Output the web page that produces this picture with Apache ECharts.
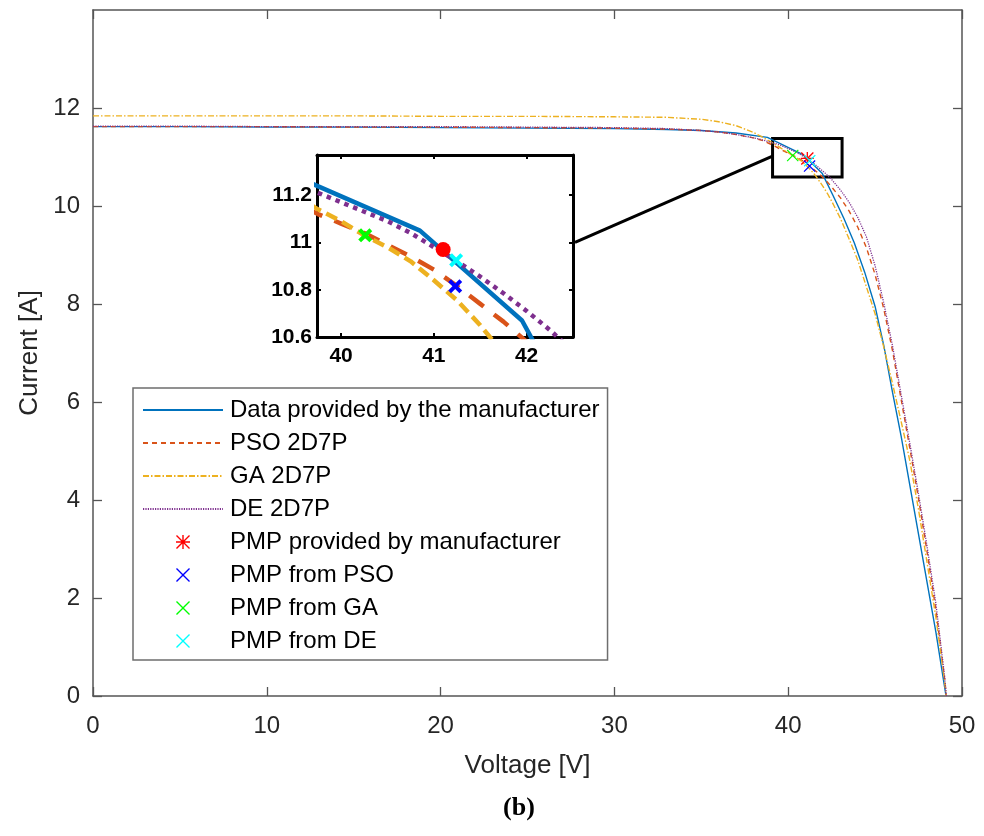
<!DOCTYPE html>
<html>
<head>
<meta charset="utf-8">
<script src="https://cdn.jsdelivr.net/npm/echarts@6/dist/echarts.min.js"></script>
<style>
  html, body { margin: 0; padding: 0; background: #fff; }
  #chart { width: 984px; height: 836px; }
</style>
</head>
<body>
<div id="chart"></div>
<script>
// ---- I-V data (voltage in V, current in A) ----
// Manufacturer curve points
const vMfr = [0, 5, 10, 15, 20, 25, 30, 33, 35, 37, 38.8, 40.85, 41.95, 42.6, 43.2, 43.8, 44.4, 45, 45.5, 46, 46.5, 47, 47.5, 48, 48.5, 49.08];
const iMfr = [11.62, 11.62, 11.61, 11.61, 11.60, 11.59, 11.58, 11.56, 11.54, 11.49, 11.40, 11.05, 10.67, 10.2, 9.75, 9.25, 8.65, 7.95, 7.15, 6.2, 5.3, 4.3, 3.3, 2.3, 1.3, 0];

// Voltage grid shared by the fitted 2D7P models
const vFit = [0, 5, 10, 15, 20, 25, 30, 33, 35, 36, 37, 38, 38.5, 39, 39.5, 39.75, 40, 40.25, 40.5, 40.75, 41, 41.25, 41.5, 41.75, 42, 42.25, 42.5, 43, 43.5, 44, 44.5, 45, 45.5, 46, 46.5, 47, 47.5, 48, 48.5, 49, 49.1];
const iPso = [11.62, 11.62, 11.62, 11.61, 11.61, 11.60, 11.59, 11.57, 11.54, 11.51, 11.46, 11.39, 11.34, 11.26, 11.17, 11.12, 11.08, 11.04, 10.99, 10.94, 10.885, 10.815, 10.74, 10.665, 10.58, 10.49, 10.39, 10.17, 9.9, 9.57, 9.15, 8.6, 7.9, 7.05, 6.05, 5.05, 4.02, 2.92, 1.75, 0.35, 0];
const iGa  = [11.84, 11.84, 11.84, 11.84, 11.83, 11.83, 11.82, 11.81, 11.77, 11.72, 11.64, 11.50, 11.41, 11.31, 11.20, 11.14, 11.09, 11.03, 10.98, 10.92, 10.84, 10.755, 10.65, 10.53, 10.40, 10.26, 10.10, 9.75, 9.33, 8.9, 8.35, 7.8, 7.12, 6.38, 5.6, 4.8, 3.8, 2.7, 1.6, 0.3, 0];
const iDe  = [11.63, 11.63, 11.62, 11.62, 11.62, 11.61, 11.60, 11.58, 11.54, 11.51, 11.46, 11.39, 11.35, 11.30, 11.25, 11.21, 11.17, 11.13, 11.09, 11.04, 10.98, 10.92, 10.855, 10.785, 10.71, 10.63, 10.54, 10.33, 10.08, 9.77, 9.37, 8.78, 8.02, 7.15, 6.15, 5.15, 4.12, 3.03, 1.88, 0.4, 0];

// Maximum power points [V, A]
const pmpMfr = [41.1, 10.97];
const pmpPso = [41.23, 10.815];
const pmpGa  = [40.26, 11.03];
const pmpDe  = [41.24, 10.925];

// Axis ranges and tick values
const mainX = [0, 50];
const mainY = [0, 14];
const mainXTicks = [0, 10, 20, 30, 40, 50];
const mainYTicks = [0, 2, 4, 6, 8, 10, 12];
const zoomX = [39.74, 42.5];
const zoomY = [10.6, 11.37];
const zoomXTicks = [40, 41, 42];
const zoomYTicks = [10.6, 10.8, 11, 11.2];
// Region outlined on the main plot
const boxV = [39.1, 43.1];
const boxI = [10.59, 11.38];

// Legend names
const names = ['Data provided by the manufacturer', 'PSO 2D7P', 'GA 2D7P', 'DE 2D7P',
  'PMP provided by manufacturer', 'PMP from PSO', 'PMP from GA', 'PMP from DE'];

// ---- styling ----
const FONT = 'Liberation Sans';
const C_BLUE = '#0072BD', C_RED = '#D95319', C_YEL = '#EDB120', C_PUR = '#7E2F8E';
const X_THIN = 'path://M0,0.7L0.7,0L5,4.3L9.3,0L10,0.7L5.7,5L10,9.3L9.3,10L5,5.7L0.7,10L0,9.3L4.3,5Z';
const X_BOLD = 'path://M0,2L2,0L5,3L8,0L10,2L7,5L10,8L8,10L5,7L2,10L0,8L3,5Z';
const STAR = 'path://M4.5,0L5.5,0L5.5,10L4.5,10Z M0,4.5L10,4.5L10,5.5L0,5.5Z M0,0.7L0.7,0L10,9.3L9.3,10Z M9.3,0L10,0.7L0.7,10L0,9.3Z';

const pairs = (xs, ys) => xs.map((x, k) => [x, ys[k]]);

const mainAxisLine = { show: true, onZero: false, lineStyle: { color: '#555', width: 1.5 } };
const mainTick = { show: true, inside: true, length: 9, lineStyle: { color: '#555', width: 1.3 } };
const zoomAxisLine = { show: true, onZero: false, lineStyle: { color: '#000', width: 3 } };
const zoomTick = { show: true, inside: true, length: 4, lineStyle: { color: '#000', width: 2 } };
const mainLabel = { fontFamily: FONT, fontSize: 24, color: '#262626', margin: 13 };
const zoomLabel = { fontFamily: FONT, fontSize: 21, fontWeight: 'bold', color: '#000' };

function lineSeries(name, xs, ys, color, type, width, axis) {
  return {
    name, type: 'line', data: pairs(xs, ys), xAxisIndex: axis, yAxisIndex: axis,
    showSymbol: false, symbol: 'none', smooth: false, clip: true,
    lineStyle: { color, width, type, cap: 'butt' }, itemStyle: { color },
    z: 3, silent: true
  };
}
function pointSeries(name, pt, symbol, size, color, axis) {
  return {
    name, type: 'scatter', data: [pt], xAxisIndex: axis, yAxisIndex: axis,
    symbol, symbolSize: size, itemStyle: { color, opacity: 1 }, z: 5, silent: true
  };
}

// legend entries: curves show only their line sample, points only their marker
const legendData = names.map((name, k) => k < 4
  ? { name, itemStyle: { opacity: 0, color: 'rgba(0,0,0,0)', borderWidth: 0 } }
  : { name });

const chart = echarts.init(document.getElementById('chart'), null, { renderer: 'canvas' });

const option = {
  animation: false,
  backgroundColor: '#fff',
  textStyle: { fontFamily: FONT },
  grid: [
    { left: 93, top: 10, width: 869, height: 686, outerBoundsMode: 'none', containLabel: false },
    { left: 317, top: 155, width: 256, height: 182, outerBoundsMode: 'none', containLabel: false,
      show: true, backgroundColor: '#fff', borderWidth: 0, z: 4 }
  ],
  xAxis: [
    { gridIndex: 0, type: 'value', position: 'bottom', min: mainX[0], max: mainX[1], interval: 10,
      axisLine: mainAxisLine, axisTick: mainTick, splitLine: { show: false },
      axisLabel: Object.assign({}, mainLabel, { margin: 18 }),
      name: 'Voltage [V]', nameLocation: 'middle', nameGap: 57,
      nameTextStyle: { fontFamily: FONT, fontSize: 26, color: '#262626' } },
    { gridIndex: 0, type: 'value', position: 'top', min: mainX[0], max: mainX[1], interval: 10,
      axisLine: mainAxisLine, axisTick: mainTick, splitLine: { show: false }, axisLabel: { show: false } },
    { gridIndex: 1, type: 'value', position: 'bottom', min: zoomX[0], max: zoomX[1],
      axisLine: zoomAxisLine, axisTick: Object.assign({ customValues: zoomXTicks }, zoomTick),
      splitLine: { show: false },
      axisLabel: Object.assign({ customValues: zoomXTicks, margin: 9 }, zoomLabel), z: 6 },
    { gridIndex: 1, type: 'value', position: 'top', min: zoomX[0], max: zoomX[1],
      axisLine: zoomAxisLine, axisTick: Object.assign({ customValues: zoomXTicks }, zoomTick),
      splitLine: { show: false }, axisLabel: { show: false }, z: 6 }
  ],
  yAxis: [
    { gridIndex: 0, type: 'value', position: 'left', min: mainY[0], max: mainY[1], interval: 2,
      axisLine: mainAxisLine, axisTick: Object.assign({ customValues: mainYTicks }, mainTick),
      splitLine: { show: false },
      axisLabel: Object.assign({ customValues: mainYTicks }, mainLabel),
      name: 'Current [A]', nameLocation: 'middle', nameGap: 44, nameRotate: 90,
      nameTextStyle: { fontFamily: FONT, fontSize: 26, color: '#262626' } },
    { gridIndex: 0, type: 'value', position: 'right', min: mainY[0], max: mainY[1], interval: 2,
      axisLine: mainAxisLine, axisTick: Object.assign({ customValues: mainYTicks }, mainTick),
      splitLine: { show: false }, axisLabel: { show: false } },
    { gridIndex: 1, type: 'value', position: 'left', min: zoomY[0], max: zoomY[1],
      axisLine: zoomAxisLine, axisTick: Object.assign({ customValues: zoomYTicks }, zoomTick),
      splitLine: { show: false },
      axisLabel: Object.assign({ customValues: zoomYTicks, margin: 5 }, zoomLabel), z: 6 },
    { gridIndex: 1, type: 'value', position: 'right', min: zoomY[0], max: zoomY[1],
      axisLine: zoomAxisLine, axisTick: Object.assign({ customValues: zoomYTicks }, zoomTick),
      splitLine: { show: false }, axisLabel: { show: false }, z: 6 }
  ],
  legend: {
    data: legendData,
    orient: 'vertical', left: 133, top: 388,
    backgroundColor: '#fff', borderColor: '#6e6e6e', borderWidth: 1.5,
    padding: [10, 8, 7, 9],
    itemWidth: 80, itemHeight: 14, itemGap: 9,
    textStyle: { fontFamily: FONT, fontSize: 24, color: '#000', padding: [0, 0, 0, 2] },
    selectedMode: false, z: 8
  },
  series: [
    // main plot curves
    lineSeries(names[0], vMfr, iMfr, C_BLUE, 'solid', 1.4, 0),
    lineSeries(names[1], vFit, iPso, C_RED, [5, 4], 1.4, 0),
    lineSeries(names[2], vFit, iGa, C_YEL, [6, 2, 1.5, 2], 1.4, 0),
    Object.assign(lineSeries(names[3], vFit, iDe, C_PUR, [1.2, 1.2], 1.3, 0), {
      markArea: {
        silent: true, label: { show: false },
        itemStyle: { color: 'rgba(0,0,0,0)', borderColor: '#000', borderWidth: 3 },
        data: [[{ coord: [boxV[0], boxI[1]] }, { coord: [boxV[1], boxI[0]] }]]
      }
    }),
    // main plot maximum power points
    pointSeries(names[4], pmpMfr, STAR, 13, '#ff0000', 0),
    pointSeries(names[5], pmpPso, X_THIN, 12, '#0000ff', 0),
    pointSeries(names[6], pmpGa, X_THIN, 12, '#00ff00', 0),
    pointSeries(names[7], pmpDe, X_THIN, 12, '#00ffff', 0),
    // zoomed view
    Object.assign(lineSeries('mfr zoom', vMfr, iMfr, C_BLUE, 'solid', 4.5, 2), { z: 7 }),
    Object.assign(lineSeries('pso zoom', vFit, iPso, C_RED, [18, 13], 4.5, 2), { z: 7 }),
    Object.assign(lineSeries('ga zoom', vFit, iGa, C_YEL, [12, 6], 4.5, 2), { z: 7 }),
    Object.assign(lineSeries('de zoom', vFit, iDe, C_PUR, [4.5, 5], 4.5, 2), { z: 7 }),
    Object.assign(pointSeries('mfr pmp zoom', pmpMfr, 'circle', 15, '#ff0000', 2), { z: 9 }),
    Object.assign(pointSeries('pso pmp zoom', pmpPso, X_BOLD, 14, '#0000ff', 2), { z: 9 }),
    Object.assign(pointSeries('ga pmp zoom', pmpGa, X_BOLD, 14, '#00ff00', 2), { z: 9 }),
    Object.assign(pointSeries('de pmp zoom', pmpDe, X_BOLD, 14, '#00ffff', 2), { z: 9 })
  ]
};

chart.setOption(option);

// connector from the zoomed view to the outlined region, plus panel caption
const pFrom = chart.convertToPixel({ gridIndex: 1 }, [zoomX[1], 11.0]);
const pTo = chart.convertToPixel({ gridIndex: 0 }, [boxV[0], 11.02]);
chart.setOption({
  graphic: [
    { type: 'line', z: 10, silent: true,
      shape: { x1: pFrom[0] + 2, y1: pFrom[1], x2: pTo[0], y2: pTo[1] },
      style: { stroke: '#000', lineWidth: 3 } },
    { type: 'text', z: 10, silent: true, x: 519, y: 808,
      style: { text: '(b)', fontFamily: 'Liberation Serif', fontWeight: 'bold', fontSize: 26,
        fill: '#000', textAlign: 'center', textVerticalAlign: 'middle' } }
  ]
});
</script>
</body>
</html>
